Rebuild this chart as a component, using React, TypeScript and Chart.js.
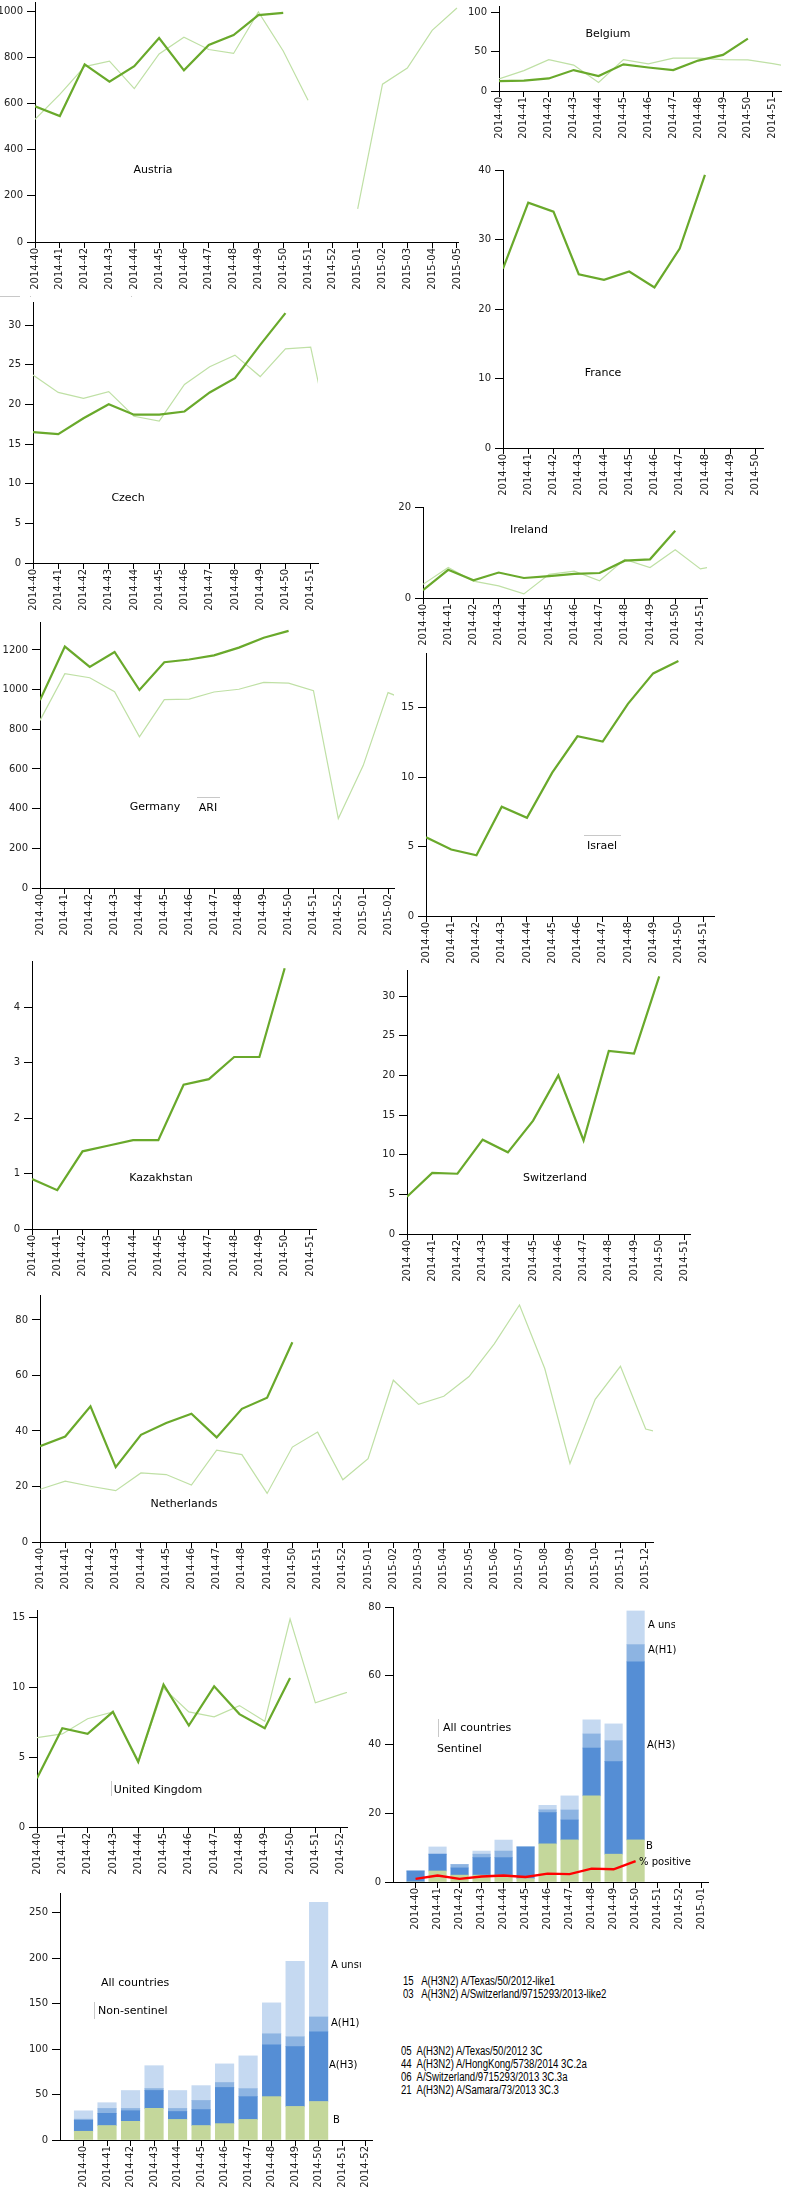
import { useEffect, useRef } from "react";
import { Chart, registerables } from "chart.js";

Chart.register(...registerables);

// week labels
const weeks2014 = ["2014-40", "2014-41", "2014-42", "2014-43", "2014-44", "2014-45", "2014-46", "2014-47", "2014-48", "2014-49", "2014-50", "2014-51", "2014-52"];
const weeks2015 = ["2015-01", "2015-02", "2015-03", "2015-04", "2015-05", "2015-06", "2015-07", "2015-08", "2015-09", "2015-10", "2015-11", "2015-12"];

// Austria
const austriaWeeks = [...weeks2014, ...weeks2015.slice(0, 5)];
const austriaThis = [588, 546, 770, 695, 762, 884, 744, 854, 897, 983, 993];
const austriaLast = [532, 640, 760, 784, 665, 815, 887, 834, 817, 997, 828, 614, null, 144, 684, 754, 917, 1014];
const austriaTicks = [0, 200, 400, 600, 800, 1000];

// Belgium
const belgiumWeeks = weeks2014.slice(0, 12);
const belgiumThis = [12.5, 13.3, 16, 26.7, 19, 34, 30, 26.7, 38.8, 46, 66.7];
const belgiumLast = [15.4, 26, 40, 33, 10.8, 40, 34.6, 42, 42, 40, 39.6, 35, 29];
const belgiumTicks = [0, 50, 100];

// France
const franceWeeks = weeks2014.slice(0, 11);
const franceThis = [25.8, 35.3, 34, 25, 24.2, 25.4, 23.1, 28.7, 39.3];
const franceTicks = [0, 10, 20, 30, 40];

// Czech
const czechWeeks = weeks2014.slice(0, 12);
const czechThis = [16.5, 16.25, 18.25, 20, 18.7, 18.7, 19.1, 21.5, 23.3, 27.5, 31.5];
const czechLast = [23.7, 21.5, 20.75, 21.6, 18.5, 17.9, 22.5, 24.75, 26.2, 23.5, 27, 27.2, 12.4];
const czechTicks = [0, 5, 10, 15, 20, 25, 30];

// Ireland
const irelandWeeks = weeks2014.slice(0, 12);
const irelandThis = [1.7, 6.2, 3.9, 5.6, 4.4, 4.8, 5.3, 5.5, 8.2, 8.5, 14.8];
const irelandLast = [3.0, 6.7, 3.7, 2.65, 0.9, 5.2, 5.9, 3.8, 8.5, 6.7, 10.6, 6.4, 7.5];
const irelandTicks = [0, 20];

// Germany
const germanyWeeks = [...weeks2014, ...weeks2015.slice(0, 2)];
const germanyThis = [947, 1217, 1115, 1190, 998, 1138, 1152, 1173, 1212, 1262, 1296];
const germanyLast = [845, 1080, 1060, 990, 762, 950, 952, 988, 1002, 1037, 1033, 995, 350, 617, 985, 935];
const germanyTicks = [0, 200, 400, 600, 800, 1000, 1200];

// Israel
const israelWeeks = weeks2014.slice(0, 12);
const israelThis = [5.67, 4.79, 4.38, 7.88, 7.07, 10.33, 12.95, 12.57, 15.29, 17.48, 18.38];
const israelTicks = [0, 5, 10, 15];

// Kazakhstan
const kazakhstanWeeks = weeks2014.slice(0, 12);
const kazakhstanThis = [0.9, 0.7, 1.4, 1.5, 1.6, 1.6, 2.6, 2.7, 3.1, 3.1, 4.7];
const kazakhstanTicks = [0, 1, 2, 3, 4];

// Switzerland
const switzerlandWeeks = weeks2014.slice(0, 12);
const switzerlandThis = [4.7, 7.7, 7.6, 11.9, 10.3, 14.3, 20, 11.8, 23.1, 22.75, 32.5];
const switzerlandTicks = [0, 5, 10, 15, 20, 25, 30];

// Netherlands
const netherlandsWeeks = [...weeks2014, ...weeks2015];
const netherlandsThis = [34.5, 38, 48.9, 27, 38.6, 42.9, 46.2, 37.7, 48, 52, 72];
const netherlandsLast = [19, 21.9, 20.1, 18.5, 24.9, 24.3, 20.5, 33.1, 31.5, 17.5, 34.2, 39.6, 22.4, 30, 58.3, 49.6, 52.5, 59.6, 71.4, 85.4, 62.5, 28.3, 51.4, 63.3, 40.7, 38.3];
const netherlandsTicks = [0, 20, 40, 60, 80];

// United Kingdom
const ukWeeks = weeks2014;
const ukThis = [3.5, 7.08, 6.67, 8.25, 4.67, 10.2, 7.27, 10.08, 8.09, 7.08, 10.68];
const ukLast = [6.4, 6.67, 7.76, 8.25, 4.6, 9.95, 8.25, 7.9, 8.7, 7.57, 14.9, 8.9, 9.5, 10.1];
const ukTicks = [0, 5, 10, 15];

// All countries, sentinel
const sentinelWeeks = [...weeks2014, weeks2015[0]];
const sentinelB = [0, 3.2, 2.0, 2.0, 2.0, 1.0, 11.1, 12.25, 25.07, 8.1, 12.25];
const sentinelH3 = [3.2, 4.9, 2.1, 5.1, 5.1, 9.2, 9.1, 5.8, 13.9, 26.9, 51.8];
const sentinelH1 = [0, 0, 1.0, 1.0, 1.9, 0, 0.8, 2.9, 4.1, 6.1, 5.0];
const sentinelUns = [0, 2.1, 0, 0.9, 3.2, 0, 1.3, 4.1, 4.1, 4.9, 9.8];
const sentinelPositive = [0.9, 1.9, 0.9, 1.6, 1.9, 1.45, 2.45, 2.3, 3.9, 3.7, 6.1];
const sentinelTicks = [0, 20, 40, 60, 80];

// All countries, non-sentinel
const nonSentinelWeeks = weeks2014;
const nonSentinelB = [9.6, 15.9, 20.5, 34.8, 22.6, 15.9, 18, 22.6, 47.7, 36.9, 42.3];
const nonSentinelH3 = [12.1, 13.4, 11.7, 19.7, 8.8, 17.6, 39.8, 25.1, 57, 65.7, 76.6];
const nonSentinelH1 = [1.2, 5.4, 2.5, 2.1, 3.3, 10, 5.4, 8.8, 12.1, 10.9, 16.4];
const nonSentinelUns = [9.2, 6.3, 19.7, 25.1, 19.7, 16.3, 20.5, 36, 34, 82.9, 126];
const nonSentinelTicks = [0, 50, 100, 150, 200, 250];

// characterised viruses
const strainLines = [
  "15   A(H3N2) A/Texas/50/2012-like1",
  "03   A(H3N2) A/Switzerland/9715293/2013-like2",
  "05  A(H3N2) A/Texas/50/2012 3C",
  "44  A(H3N2) A/HongKong/5738/2014 3C.2a",
  "06  A/Switzerland/9715293/2013 3C.3a",
  "21  A(H3N2) A/Samara/73/2013 3C.3",
];

const DARK = "#69a92b";
const LIGHT = "#bfe0a5";
const COL_B = "#c4d79b";
const COL_H3 = "#558ed5";
const COL_H1 = "#8db4e2";
const COL_UNS = "#c5d9f1";
const FONT = "'DejaVu Sans', sans-serif";

// canvas margins round the plot area
const YW = 40;
const PT = 8;
const PR = 10;
const XH = 56;

Chart.defaults.font.family = FONT;
Chart.defaults.font.size = 10;
Chart.defaults.color = "#222";

type Frame = { ax: number; ex: number; ty: number; by: number };

const pts = (vals: (number | null)[]) => vals.map((v, i) => ({ x: i, y: v }));

function makeOptions(weeks: string[], xMin: number, xMax: number, yMax: number, yTicks: number[], stacked = false) {
  return {
    responsive: false,
    animation: false as const,
    layout: { padding: { top: PT, right: PR, left: 0, bottom: 0 } },
    plugins: { legend: { display: false }, tooltip: { enabled: false } },
    scales: {
      x: {
        type: "linear" as const,
        min: xMin,
        max: xMax,
        bounds: "data" as const,
        offset: false,
        stacked,
        grid: { drawOnChartArea: false, drawTicks: true, tickLength: 6, color: "#000", offset: false },
        border: { color: "#000", width: 1 },
        afterBuildTicks: (s: any) => {
          s.ticks = weeks.map((_, i) => ({ value: i }));
        },
        afterFit: (s: any) => {
          s.height = XH;
        },
        ticks: {
          autoSkip: false,
          minRotation: 90,
          maxRotation: 90,
          padding: 0,
          callback: (v: any) => weeks[v] ?? "",
        },
      },
      y: {
        type: "linear" as const,
        min: 0,
        max: yMax,
        bounds: "data" as const,
        stacked,
        grid: { drawOnChartArea: false, drawTicks: true, tickLength: 8, color: "#000" },
        border: { color: "#000", width: 1 },
        afterBuildTicks: (s: any) => {
          s.ticks = yTicks.map((v) => ({ value: v }));
        },
        afterFit: (s: any) => {
          s.width = YW;
        },
        ticks: { padding: 4, callback: (v: any) => String(v) },
      },
    },
  };
}

function lineChart(weeks: string[], xMax: number, yMax: number, yTicks: number[], current: number[], last?: (number | null)[]) {
  const datasets: any[] = [
    { data: pts(current), borderColor: DARK, borderWidth: 2.2, pointRadius: 0, tension: 0 },
  ];
  if (last) {
    datasets.push({ data: pts(last), borderColor: LIGHT, borderWidth: 1.2, pointRadius: 0, tension: 0 });
  }
  return () => ({ type: "line" as const, data: { datasets }, options: makeOptions(weeks, 0, xMax, yMax, yTicks) });
}

function barChart(weeks: string[], xMin: number, xMax: number, yMax: number, yTicks: number[], thick: number,
  b: number[], h3: number[], h1: number[], uns: number[], positive?: number[]) {
  const bar = (vals: number[], color: string) => ({
    type: "bar" as const, data: pts(vals), backgroundColor: color, barThickness: thick, order: 1, stack: "flu",
  });
  const datasets: any[] = [];
  if (positive) {
    datasets.push({ type: "line", data: pts(positive), borderColor: "#ff0000", borderWidth: 2.4, pointRadius: 0, order: 0, stack: "pct" });
  }
  datasets.push(bar(b, COL_B), bar(h3, COL_H3), bar(h1, COL_H1), bar(uns, COL_UNS));
  return () => ({ type: "bar" as const, data: { datasets }, options: makeOptions(weeks, xMin, xMax, yMax, yTicks, true) });
}

function Panel({ frame, make }: { frame: Frame; make: () => any }) {
  const canvasRef = useRef<HTMLCanvasElement>(null);
  const left = Math.round(frame.ax) - YW;
  const top = Math.round(frame.ty) - PT;
  const w = Math.round(frame.ex) - Math.round(frame.ax) + YW + PR;
  const h = Math.round(frame.by) - Math.round(frame.ty) + PT + XH;

  useEffect(() => {
    if (!canvasRef.current) return;
    const chart = new Chart(canvasRef.current, make());
    return () => chart.destroy();
  }, []);

  return (
    <canvas
      ref={canvasRef}
      width={w}
      height={h}
      style={{ position: "absolute", left, top, width: w, height: h }}
    />
  );
}

function Label({ x, y, text, size = 11, anchor = "middle" }: { x: number; y: number; text: string; size?: number; anchor?: "middle" | "start" }) {
  return (
    <div
      style={{
        position: "absolute",
        left: x,
        top: y,
        transform: anchor === "middle" ? "translate(-50%, -50%)" : "translate(0, -50%)",
        font: `${size}px ${FONT}`,
        color: "#000",
        whiteSpace: "nowrap",
        lineHeight: "1",
      }}
    >
      {text}
    </div>
  );
}

function Clipped({ x, y, w, text }: { x: number; y: number; w: number; text: string }) {
  return (
    <div style={{ position: "absolute", left: x, top: y - 7, width: w, height: 14, overflow: "hidden" }}>
      <div style={{ font: `10px ${FONT}`, lineHeight: "14px", whiteSpace: "nowrap", color: "#000" }}>{text}</div>
    </div>
  );
}

function Rule({ x, y, w, h }: { x: number; y: number; w: number; h: number }) {
  return <div style={{ position: "absolute", left: x, top: y, width: w, height: h, background: "#c8c8c8" }} />;
}

export default function App() {
  return (
    <div style={{ position: "absolute", left: 0, top: 0, width: 800, height: 2200, background: "#fff", overflow: "hidden" }}>
      <Panel frame={{ ax: 35.3, ex: 459.3, ty: 0, by: 242.3 }} make={lineChart(austriaWeeks, 17.06, 1040, austriaTicks, austriaThis, austriaLast)} />
      <Panel frame={{ ax: 499.3, ex: 781, ty: 4.3, by: 91 }} make={lineChart(belgiumWeeks, 11.33, 108.4, belgiumTicks, belgiumThis, belgiumLast)} />
      <Panel frame={{ ax: 503.3, ex: 763, ty: 168.3, by: 448.3 }} make={lineChart(franceWeeks, 10.3, 40, franceTicks, franceThis)} />
      <Panel frame={{ ax: 33.3, ex: 317.7, ty: 300, by: 563.3 }} make={lineChart(czechWeeks, 11.29, 32.9, czechTicks, czechThis, czechLast)} />
      <Panel frame={{ ax: 423.3, ex: 707.3, ty: 505, by: 598 }} make={lineChart(irelandWeeks, 11.26, 20, irelandTicks, irelandThis, irelandLast)} />
      <Panel frame={{ ax: 40.3, ex: 394.3, ty: 620, by: 888.3 }} make={lineChart(germanyWeeks, 14.24, 1341, germanyTicks, germanyThis, germanyLast)} />
      <Panel frame={{ ax: 426.3, ex: 714, ty: 651, by: 916.3 }} make={lineChart(israelWeeks, 11.41, 18.95, israelTicks, israelThis)} />
      <Panel frame={{ ax: 31.8, ex: 315.6, ty: 959, by: 1229.3 }} make={lineChart(kazakhstanWeeks, 11.24, 4.83, kazakhstanTicks, kazakhstanThis)} />
      <Panel frame={{ ax: 406.6, ex: 690.4, ty: 968, by: 1234.3 }} make={lineChart(switzerlandWeeks, 11.22, 33.3, switzerlandTicks, switzerlandThis)} />
      <Panel frame={{ ax: 40.2, ex: 652.6, ty: 1293, by: 1542.3 }} make={lineChart(netherlandsWeeks, 24.29, 89, netherlandsTicks, netherlandsThis, netherlandsLast)} />
      <Panel frame={{ ax: 36.5, ex: 347, ty: 1607.7, by: 1826.5 }} make={lineChart(ukWeeks, 12.25, 15.55, ukTicks, ukThis, ukLast)} />
      <Panel
        frame={{ ax: 392.7, ex: 708.4, ty: 1605.4, by: 1881.5 }}
        make={barChart(sentinelWeeks, -1.025, 13.29, 80, sentinelTicks, 17.5, sentinelB, sentinelH3, sentinelH1, sentinelUns, sentinelPositive)}
      />
      <Panel
        frame={{ ax: 59.5, ex: 372.4, ty: 1891, by: 2140.4 }}
        make={barChart(nonSentinelWeeks, -1, 12.27, 271.6, nonSentinelTicks, 18.5, nonSentinelB, nonSentinelH3, nonSentinelH1, nonSentinelUns)}
      />

      {/* country names */}
      <Label x={153} y={169} text="Austria" />
      <Label x={608} y={33} text="Belgium" />
      <Label x={603} y={372} text="France" />
      <Label x={128} y={497} text="Czech" />
      <Label x={529} y={529} text="Ireland" />
      <Label x={155} y={806} text="Germany" />
      <Label x={208} y={807} text="ARI" />
      <Rule x={197} y={797} w={23} h={1} />
      <Label x={602} y={845} text="Israel" />
      <Rule x={584} y={835} w={37} h={1} />
      <Label x={161} y={1177} text="Kazakhstan" />
      <Label x={555} y={1177} text="Switzerland" />
      <Label x={184} y={1503} text="Netherlands" />
      <Label x={158} y={1789} text="United Kingdom" />
      <Rule x={111} y={1781} w={1} h={15} />

      {/* small marks left over between panels */}
      <Rule x={0} y={296} w={20} h={1} />
      <Rule x={30} y={296} w={1} h={1} />
      <Rule x={131} y={296} w={1} h={1} />

      {/* sentinel panel texts */}
      <Label x={443} y={1727} text="All countries" anchor="start" />
      <Rule x={438} y={1719} w={1} h={18} />
      <Label x={437} y={1748} text="Sentinel" anchor="start" />
      <Clipped x={648} y={1625} w={27} text="A unsubtyped" />
      <Label x={648} y={1650} text="A(H1)" size={10} anchor="start" />
      <Label x={647} y={1745} text="A(H3)" size={10} anchor="start" />
      <Label x={646} y={1846} text="B" size={10} anchor="start" />
      <Label x={639} y={1862} text="% positive" size={10} anchor="start" />

      {/* non-sentinel panel texts */}
      <Label x={101} y={1982} text="All countries" anchor="start" />
      <Label x={98} y={2010} text="Non-sentinel" anchor="start" />
      <Rule x={94} y={2002} w={1} h={17} />
      <Clipped x={331} y={1965} w={30} text="A unsubtyped" />
      <Label x={331} y={2023} text="A(H1)" size={10} anchor="start" />
      <Label x={329} y={2065} text="A(H3)" size={10} anchor="start" />
      <Label x={333} y={2120} text="B" size={10} anchor="start" />

      {/* strain list */}
      {strainLines.map((line, i) => {
        const top = [1981, 1993.5, 2051, 2064, 2077, 2090][i];
        const left = i < 2 ? 403 : 400.5;
        return (
          <div
            key={i}
            style={{
              position: "absolute",
              left,
              top: top - 7,
              font: "12px 'Liberation Sans', sans-serif",
              lineHeight: "14px",
              whiteSpace: "pre",
              transform: "scaleX(0.8)",
              transformOrigin: "left center",
              color: "#000",
            }}
          >
            {line}
          </div>
        );
      })}
    </div>
  );
}
